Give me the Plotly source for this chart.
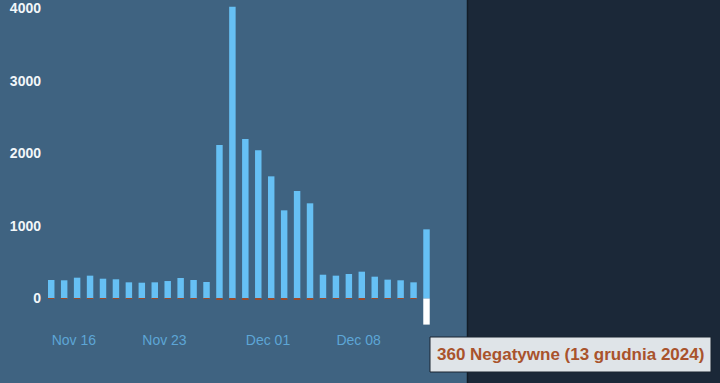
import pandas as pd
import plotly.graph_objects as go

# ---- data ----
dates = pd.date_range("2024-11-14", "2024-12-13", freq="D")
positive = [255, 251, 287, 315, 273, 265, 223, 218, 223, 241, 283, 255, 228,
            2117, 4025, 2200, 2044, 1685, 1216, 1483, 1313,
            328, 315, 338, 370, 301, 260, 251, 223, 954]
negative = [-3, -3, -3, -3, -3, -3, -3, -3, -3, -3, -3, -3, -3,
            -14, -18, -15, -14, -13, -12, -13, -12,
            -6, -6, -6, -7, -6, -5, -5, -5, -360]
tick_dates = ["2024-11-16", "2024-11-23", "2024-12-01", "2024-12-08"]
tick_text = ["Nov 16", "Nov 23", "Dec 01", "Dec 08"]
y_ticks = [0, 1000, 2000, 3000, 4000]
tooltip = "360 Negatywne (13 grudnia 2024)"

# ---- styling / layout geometry ----
W, H = 720, 383
L, R, T, B = 45, 253, 0, 53
PW, PH = W - L - R, H - T - B
DAY_PX = 12.94
FIRST_LEFT_PX = 48
ZERO_PX = 298.5
PX_PER_1000 = 72.5

day = pd.Timedelta(days=1)
x0 = dates[0] - (FIRST_LEFT_PX - L) / DAY_PX * day
x1 = x0 + PW / DAY_PX * day
y_top = ZERO_PX / PX_PER_1000 * 1000
y_bot = (ZERO_PX - PH) / PX_PER_1000 * 1000

bar_w = 0.5 * 86400000

neg_colors = ["#9a4a2a"] * (len(negative) - 1) + ["#ffffff"]

fig = go.Figure()
fig.add_trace(go.Bar(x=dates, y=positive, width=bar_w, offset=0,
                     marker=dict(color="#66c0f4", line=dict(width=0))))
fig.add_trace(go.Bar(x=dates, y=negative, width=bar_w, offset=0,
                     marker=dict(color=neg_colors, line=dict(width=0))))

def px_x(p):
    return (p - L) / PW

def px_y(p):
    return (H - B - p) / PH

shapes = [
    dict(type="rect", xref="paper", yref="paper", x0=px_x(0), x1=1,
         y0=px_y(H), y1=px_y(0), fillcolor="#3f6381", line=dict(width=0),
         layer="below"),
    dict(type="line", xref="paper", yref="paper", x0=px_x(467.5), x1=px_x(467.5),
         y0=px_y(H), y1=px_y(0), line=dict(color="#121c27", width=1.5)),
    dict(type="rect", xref="paper", yref="paper", x0=px_x(430), x1=px_x(711),
         y0=px_y(372), y1=px_y(337), fillcolor="#dfe4e8",
         line=dict(color="#1a2430", width=1), layer="above"),
]

fig.update_layout(
    width=W, height=H,
    margin=dict(l=L, r=R, t=T, b=B, pad=0),
    paper_bgcolor="#1b2838",
    plot_bgcolor="rgba(0,0,0,0)",
    barmode="relative",
    showlegend=False,
    hovermode=False,
    shapes=shapes,
    font=dict(family="Liberation Sans, Arial, sans-serif"),
    xaxis=dict(type="date", range=[x0, x1], tickvals=tick_dates, ticktext=tick_text,
               showgrid=False, zeroline=False, showline=False, ticks="",
               tickfont=dict(size=14, color="#5da6d6")),
    yaxis=dict(range=[y_bot, y_top], tickvals=y_ticks, showgrid=False,
               zeroline=False, showline=False, ticks="", ticklabelstandoff=3,
               tickfont=dict(size=14, color="#f2f6f9", weight="bold")),
    annotations=[dict(xref="paper", yref="paper", x=px_x(570), y=px_y(354.5),
                      xanchor="center", yanchor="middle", text=tooltip,
                      showarrow=False,
                      font=dict(size=17, color="#a9532c", weight="bold",
                                family="Liberation Sans, Arial, sans-serif"))],
)

fig.write_html("out.html")
